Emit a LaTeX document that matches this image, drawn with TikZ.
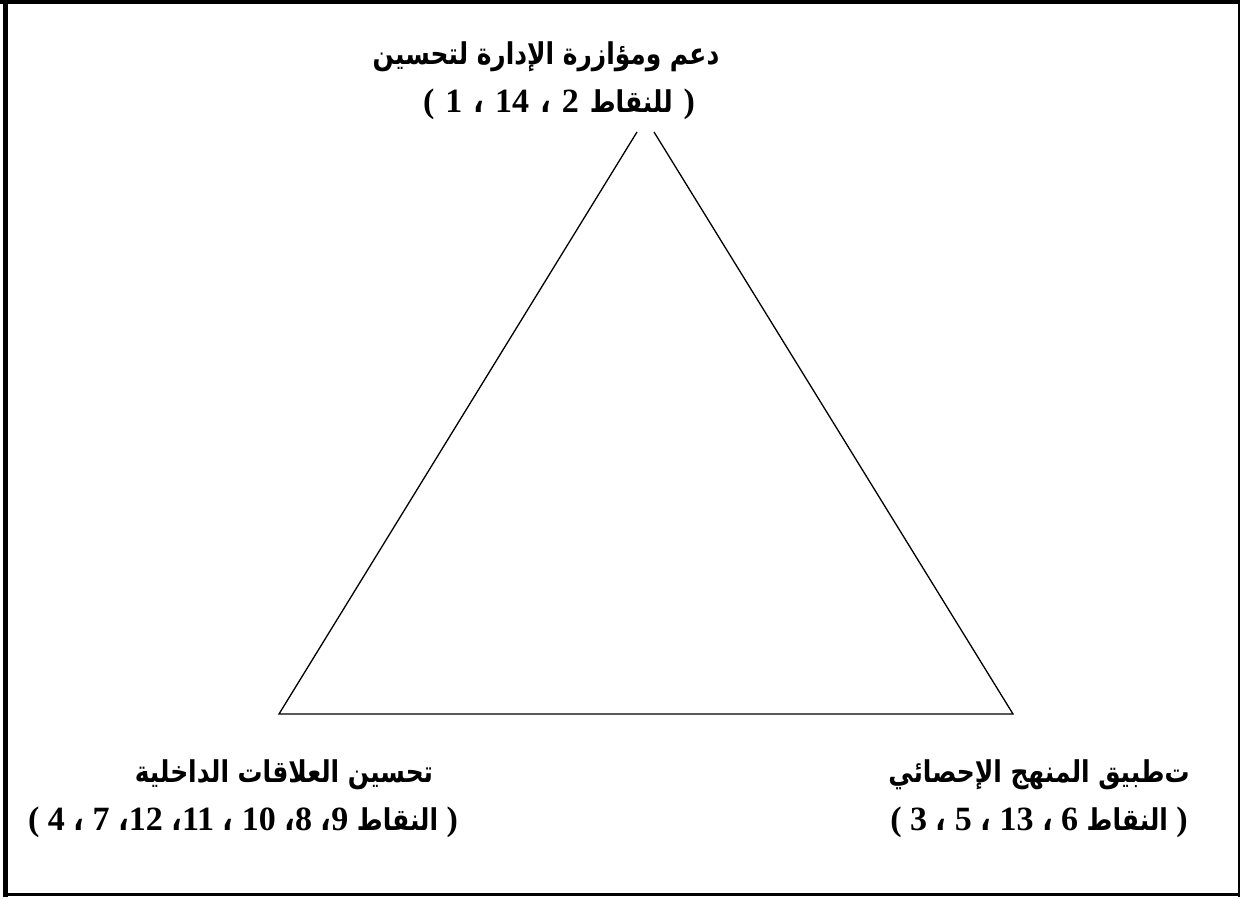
\documentclass[tikz,border=0pt]{standalone}
\usepackage{fontspec}
\TeXXeTstate=1
\newfontfamily\arabicfont[Script=Arabic, FakeStretch=0.83]{DejaVu Sans}
\newfontfamily\numfont{Liberation Serif}
\newcommand{\artxt}[1]{{\arabicfont\bfseries\fontsize{30}{34}\selectfont\beginR #1\endR}}
\newcommand{\acm}{{\arabicfont\bfseries ،}}
\newcommand{\gp}{\hspace{11pt}}
\begin{document}
\begin{tikzpicture}[x=1pt,y=-1pt,
  arline/.style={inner sep=0pt, font=\arabicfont\bfseries\fontsize{30}{34}\selectfont},
  numline/.style={inner sep=0pt, font=\numfont\bfseries\fontsize{34}{38}\selectfont},
  edge/.style={line width=1.3pt, black}]
\useasboundingbox (0,0) rectangle (1240,899);
% frame
\draw[line width=4pt] (0,2) -- (1240,2);
\draw[line width=5pt] (5.5,0) -- (5.5,897);
\draw[line width=2.5pt] (1239,0) -- (1239,897);
\draw[line width=3pt] (3,894) -- (1240,894);
% triangle
\coordinate (apexL) at (637,132);
\coordinate (apexR) at (654,132);
\coordinate (vL) at (279,714);
\coordinate (vR) at (1013,714);
\draw[edge, line join=miter] (apexL) -- (vL) -- (vR) -- (apexR);
% labels
\node[arline] (t1) at (546,57) {\beginR دعم ومؤازرة الإدارة لتحسين\endR};
\node[numline] (t2) at (559,104) {(\gp1\gp\acm\gp14\gp\acm\gp2\gp\artxt{للنقاط}\gp)};
\node[arline] (l1) at (284,775) {\beginR تحسين العلاقات الداخلية\endR};
\node[numline] (l2) at (243,822) {( 4 \acm\ 7 \acm12 \acm11 \acm\ 10 \acm8 \acm9 \artxt{النقاط} )};
\node[arline] (r1) at (1039,775) {\beginR ت‌طبيق المنهج الإحصائي\endR};
\node[numline] (r2) at (1039,822) {( 3 \acm\ 5 \acm\ 13 \acm\ 6 \artxt{النقاط} )};
\end{tikzpicture}
\end{document}
